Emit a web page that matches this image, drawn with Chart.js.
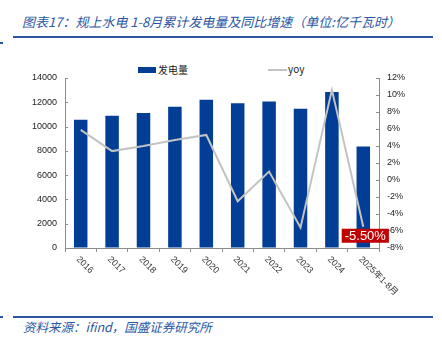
<!DOCTYPE html>
<html lang="zh">
<head>
<meta charset="UTF-8">
<title>规上水电 1-8月累计发电量及同比增速</title>
<script src="https://cdn.jsdelivr.net/npm/chart.js"></script>
<style>
  body { margin: 0; background: #fff; }
  #wrap { position: relative; width: 442px; height: 342px; overflow: hidden; font-family: "Noto Sans CJK SC", sans-serif; }
  #box { position: absolute; left: 0; top: 0; width: 442px; height: 342px; }
  .head { position: absolute; left: 22px; top: 13px; font-size: 13px; font-style: italic; color: #2a56a5; white-space: nowrap; line-height: 18px; }
  .foot { position: absolute; left: 23px; top: 318px; font-size: 12.5px; font-style: italic; color: #2a56a5; white-space: nowrap; line-height: 18px; }
  .rule { position: absolute; height: 2px; background: #2a56a5; }
  .key { position: absolute; font-size: 10px; color: #222; line-height: 12px; white-space: nowrap; }
</style>
</head>
<body>
<div id="wrap">
  <div class="head">图表17：规上水电 1-8月累计发电量及同比增速（单位:亿千瓦时）</div>
  <div class="rule" style="left:13px; top:36px; width:420px;"></div>
  <div class="rule" style="left:0; top:42px; width:3px;"></div>
  <div class="rule" style="left:13px; top:316px; width:420px;"></div>
  <div class="rule" style="left:0; top:316px; width:3px;"></div>
  <div class="foot">资料来源：ifind，国盛证券研究所</div>

  <div style="position:absolute; left:138px; top:67px; width:18px; height:6px; background:#023e96;"></div>
  <div class="key" style="left:158px; top:64px;">发电量</div>
  <div style="position:absolute; left:268px; top:69px; width:19px; height:2px; background:#c3c3c3;"></div>
  <div class="key" style="left:288px; top:63px;">yoy</div>

  <div id="box"><canvas id="c"></canvas></div>
</div>

<script>
// 规上水电 1-8 月累计发电量（亿千瓦时）与同比增速（%）
const years = ['2016', '2017', '2018', '2019', '2020', '2021', '2022', '2023', '2024', '2025年1-8月'];
const output = [10560, 10890, 11110, 11630, 12210, 11930, 12070, 11470, 12840, 8360];
const yoy = [5.9, 3.4, 4.0, 4.7, 5.3, -2.5, 1.0, -5.6, 10.6, -5.5];

const tickFont = { family: '"Liberation Sans", Arial, sans-serif', size: 9 };
const axisGray = '#8c8c8c';

// tick marks pointing into the plot, category labels at 45°, and the red value tag
const decor = {
  id: 'decor',
  afterDatasetsDraw(chart) {
    const { ctx, chartArea: a, scales: { x, y, y1 } } = chart;
    ctx.save();
    ctx.strokeStyle = axisGray;
    ctx.lineWidth = 1;
    ctx.beginPath();
    y.ticks.forEach(t => {
      const py = Math.round(y.getPixelForValue(t.value)) + 0.5;
      ctx.moveTo(a.left, py); ctx.lineTo(a.left + 3, py);
    });
    y1.ticks.forEach(t => {
      const py = Math.round(y1.getPixelForValue(t.value)) + 0.5;
      ctx.moveTo(a.right - 3, py); ctx.lineTo(a.right, py);
    });
    ctx.stroke();

    ctx.font = '9px "Liberation Sans", Arial, "Noto Sans CJK SC", sans-serif';
    ctx.fillStyle = '#333';
    ctx.textAlign = 'left';
    ctx.textBaseline = 'middle';
    years.forEach((lab, i) => {
      const px = x.getPixelForValue(i);
      ctx.save();
      ctx.translate(px - 3, a.bottom + 10);
      ctx.rotate(Math.PI / 4);
      ctx.fillText(lab, 0, 0);
      ctx.restore();
    });

    const last = yoy.length - 1;
    const txt = yoy[last].toFixed(2) + '%';
    const px = x.getPixelForValue(last);
    const py = y1.getPixelForValue(yoy[last]);
    ctx.font = '13px "Liberation Sans", Arial, sans-serif';
    const w = ctx.measureText(txt).width + 6;
    ctx.fillStyle = '#c00000';
    ctx.fillRect(px + 2 - w / 2, py + 2, w, 14);
    ctx.fillStyle = '#fff';
    ctx.textAlign = 'center';
    ctx.fillText(txt, px + 2, py + 9.5);
    ctx.restore();
  }
};

new Chart(document.getElementById('c'), {
  data: {
    labels: years,
    datasets: [
      {
        type: 'line',
        label: 'yoy',
        data: yoy,
        yAxisID: 'y1',
        borderColor: '#c3c3c3',
        borderWidth: 2,
        pointRadius: 0,
        tension: 0,
        order: 0
      },
      {
        type: 'bar',
        label: '发电量',
        data: output,
        yAxisID: 'y',
        backgroundColor: '#023e96',
        barPercentage: 0.43,
        categoryPercentage: 1.0,
        order: 1
      }
    ]
  },
  options: {
    responsive: true,
    maintainAspectRatio: false,
    animation: false,
    layout: { padding: { top: 78, left: 0, right: 0, bottom: 0 } },
    plugins: { legend: { display: false }, tooltip: { enabled: false } },
    scales: {
      x: {
        offset: true,
        grid: { offset: true, drawOnChartArea: false, drawTicks: true, tickLength: 4, color: axisGray },
        border: { color: axisGray },
        ticks: { display: false },
        afterFit: s => { s.height = 94; }
      },
      y: {
        position: 'left',
        min: 0, max: 14000,
        ticks: { stepSize: 2000, font: tickFont, color: '#222', padding: 8, callback: v => String(v) },
        grid: { drawOnChartArea: false, drawTicks: false },
        border: { color: axisGray },
        afterFit: s => { s.width = 65; }
      },
      y1: {
        position: 'right',
        min: -8, max: 12,
        ticks: { stepSize: 2, font: tickFont, color: '#222', padding: 8, callback: v => v + '%' },
        grid: { drawOnChartArea: false, drawTicks: false },
        border: { color: axisGray },
        afterFit: s => { s.width = 63; }
      }
    }
  },
  plugins: [decor]
});
</script>
</body>
</html>
